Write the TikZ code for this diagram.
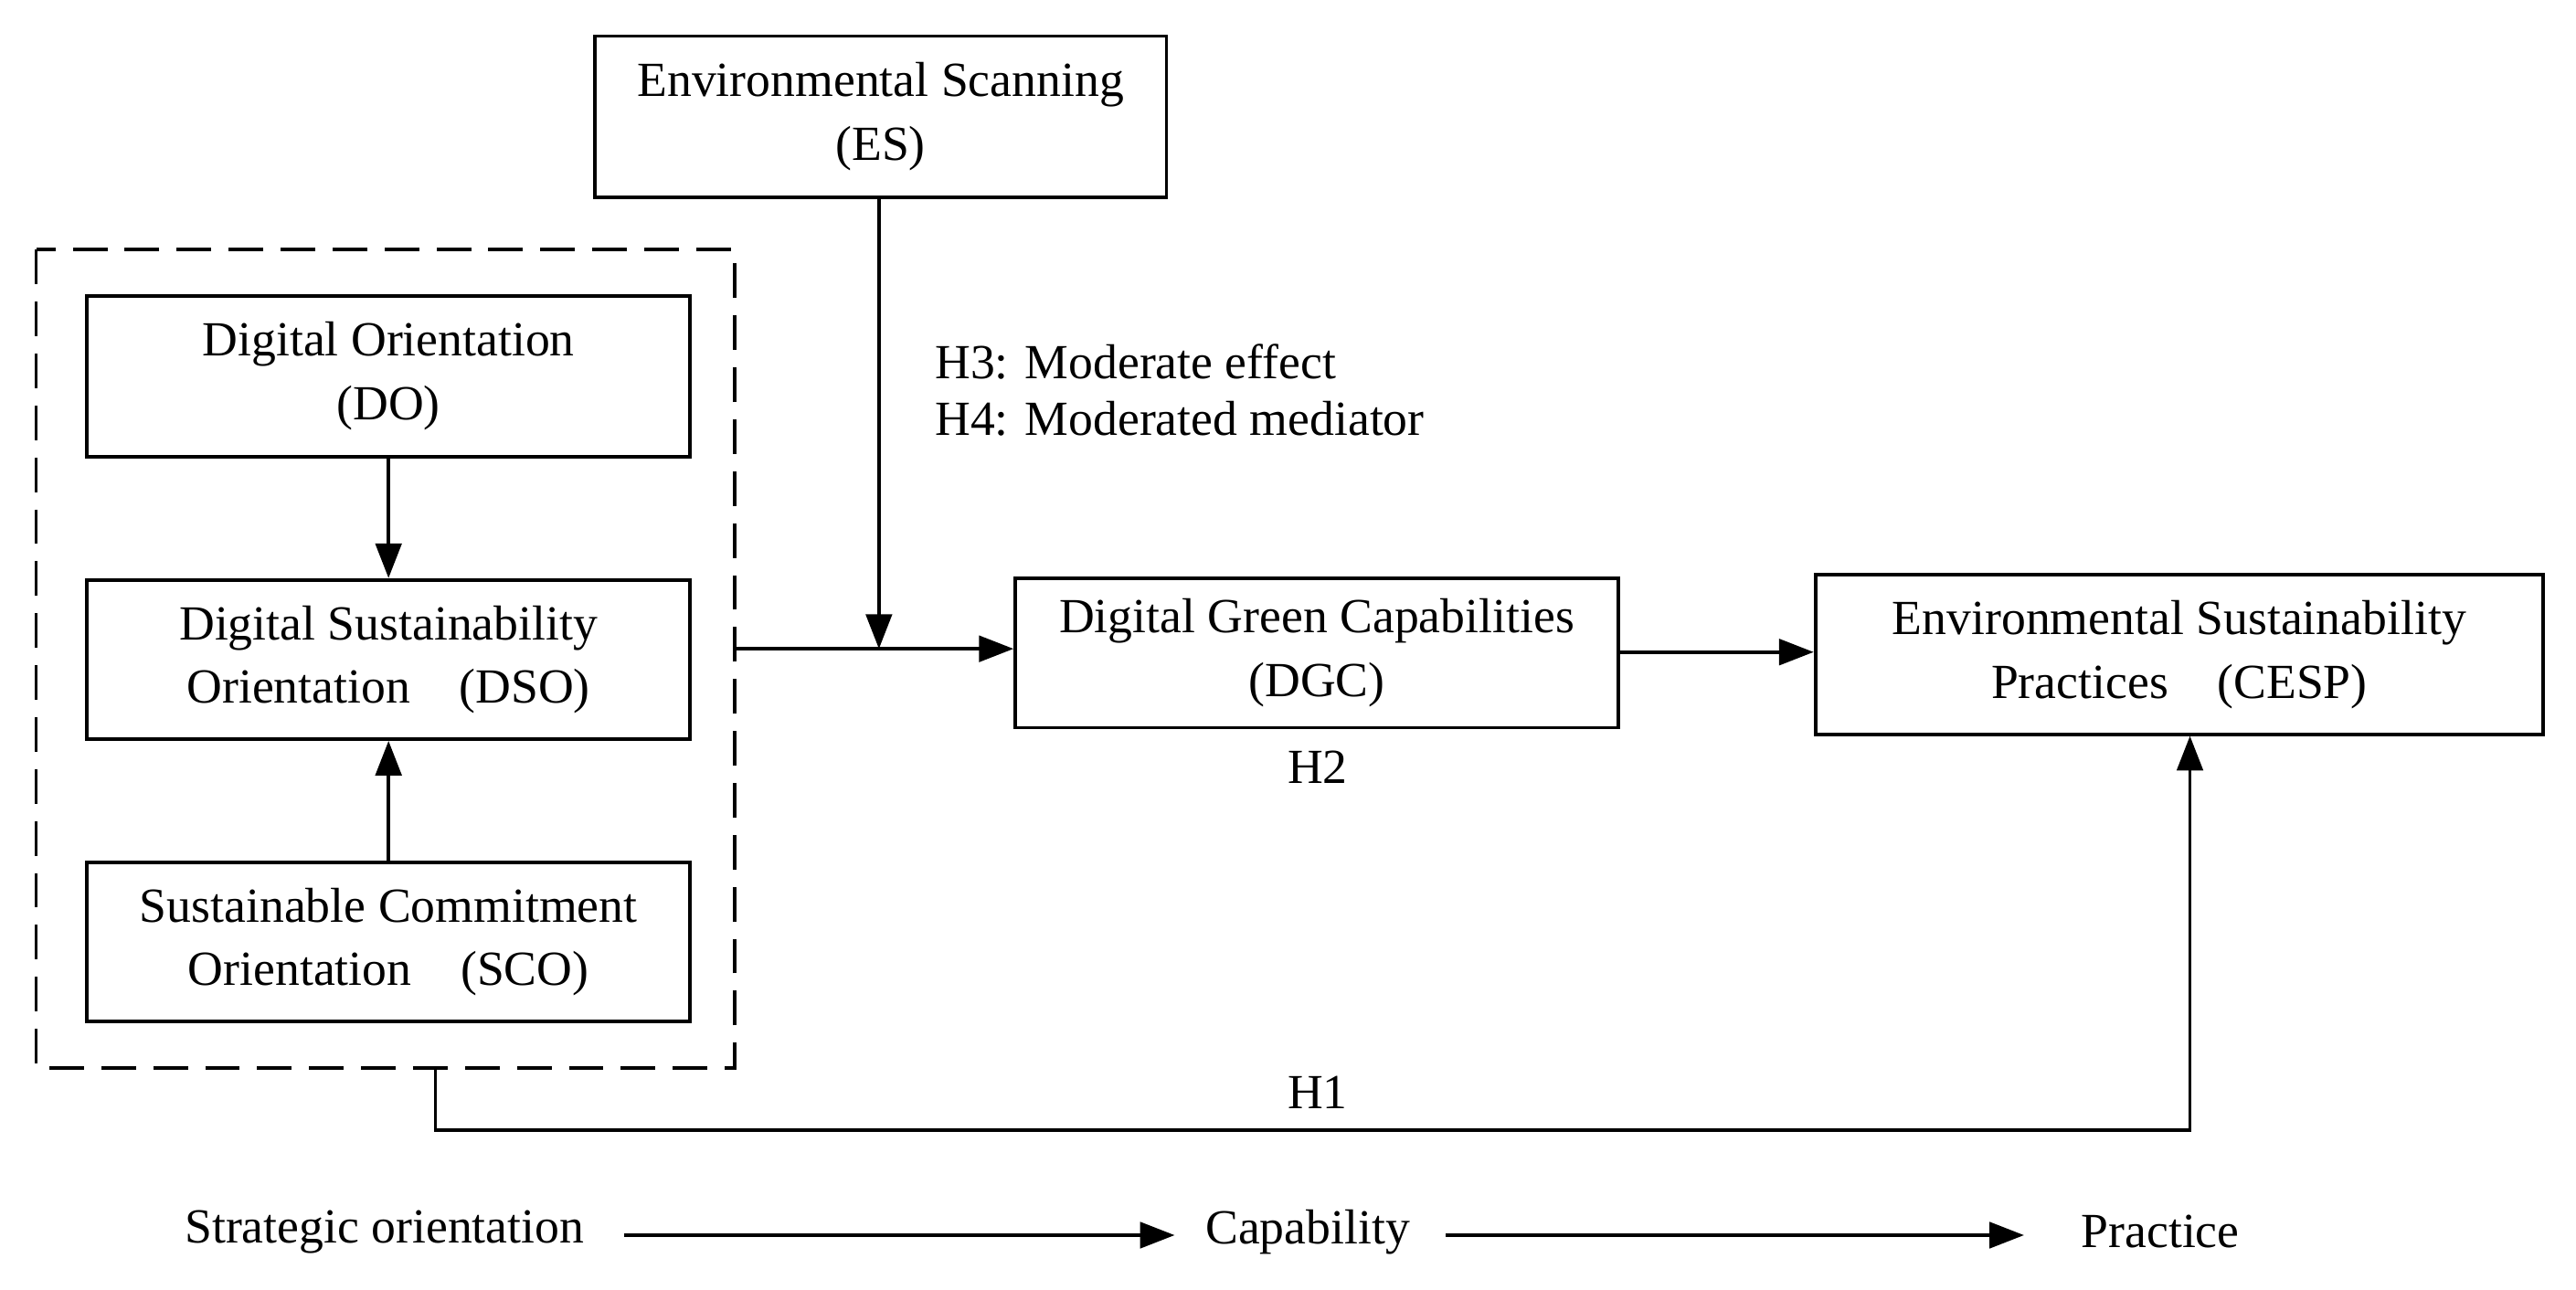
\documentclass[tikz,border=0pt]{standalone}
\usepackage{fontspec}
\setmainfont{Liberation Serif}
\usetikzlibrary{arrows.meta}
\begin{document}
\begin{tikzpicture}[x=0.02cm,y=-0.02cm,
  box/.style={draw,line width=1.2pt,align=center,inner sep=0pt},
  arr/.style={line width=1.2pt,-{Triangle[length=12pt,width=9pt]}},
  every node/.style={font=\fontsize{17}{22}\selectfont}]
\useasboundingbox (0,0) rectangle (1568,785);
\node[box,minimum width=348*0.02cm,minimum height=98*0.02cm] (es) at (536,71) {Environmental Scanning\\(ES)};
\draw[dashed,line width=1.2pt,dash pattern=on 12pt off 6pt] (22,152) rectangle (447,650);
\coordinate (dbr) at (447,395);
\coordinate (dbb) at (265,650);
\node[box,minimum width=367*0.02cm,minimum height=98*0.02cm] (do) at (236.5,229) {Digital Orientation\\(DO)};
\node[box,minimum width=367*0.02cm,minimum height=97*0.02cm] (dso) at (236.5,401.5) {Digital Sustainability\\Orientation\quad (DSO)};
\node[box,minimum width=367*0.02cm,minimum height=97*0.02cm] (sco) at (236.5,573.5) {Sustainable Commitment\\Orientation\quad (SCO)};
\node[box,minimum width=367*0.02cm,minimum height=91*0.02cm] (dgc) at (801.5,397.5) {Digital Green Capabilities\\(DGC)};
\node[box,minimum width=443*0.02cm,minimum height=97*0.02cm] (cesp) at (1326.5,398.5) {Environmental Sustainability\\Practices\quad (CESP)};
\draw[arr] (do) -- (dso);
\draw[arr] (sco) -- (dso);
\draw[arr] (dbr) -- (dbr -| dgc.west);
\coordinate (j) at (535,395);
\draw[arr] (es.south -| j) -- (j);
\draw[arr] (dgc.east |- 0,397) -- (cesp.west |- 0,397);
\coordinate (c1) at (265,688);
\coordinate (c2) at (1333,688);
\draw[arr] (dbb) -- (c1) -- (c2) -- (c2 |- cesp.south);
\node[anchor=west] (h3) at (563,220) {H3: Moderate effect};
\node[anchor=west] (h4) at (563,255) {H4: Moderated mediator};
\node (h2) at (802,467) {H2};
\node (h1) at (802,665) {H1};
\node (so) at (234,750) {Strategic orientation};
\node (cap) at (796,750) {Capability};
\node (pr) at (1315,750) {Practice};
\draw[arr] (380,752) -- (715,752);
\draw[arr] (880,752) -- (1232,752);
\end{tikzpicture}
\end{document}
